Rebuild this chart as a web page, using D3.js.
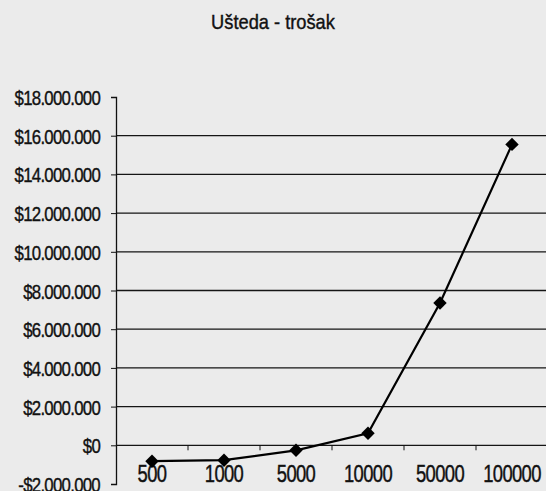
<!DOCTYPE html>
<html>
<head>
<meta charset="utf-8">
<script src="https://cdn.jsdelivr.net/npm/d3@7"></script>
<style>
  body { margin: 0; background: #ebebeb; }
  svg { display: block; }
  text { font-family: "Liberation Sans", Arial, sans-serif; fill: #111; stroke: #111; stroke-width: 0.4px; }
</style>
</head>
<body>
<svg id="chart"></svg>
<script>
var categories = ['500', '1000', '5000', '10000', '50000', '100000'];
var values = [-820000, -770000, -260000, 620000, 7350000, 15550000];
var yTicks = [-2000000, 0, 2000000, 4000000, 6000000, 8000000, 10000000, 12000000, 14000000, 16000000, 18000000];
var title = 'Ušteda - trošak';

var size = { width: 546, height: 491 };
var plot = { left: 116, right: 548, top: 97, bottom: 484 };
var squeeze = 0.8;

var locale = d3.formatLocale({
  decimal: ',', thousands: '.', grouping: [3], currency: ['$', ''], minus: '-'
});
var fmt = locale.format('$,');

var svg = d3.select('#chart')
  .attr('width', size.width)
  .attr('height', size.height);

var x = d3.scaleBand()
  .domain(categories)
  .range([plot.left, plot.right]);

var y = d3.scaleLinear()
  .domain([-2000000, 18000000])
  .range([plot.bottom, plot.top]);

svg.append('text')
  .attr('x', (size.width / 2) / 0.87)
  .attr('y', 29)
  .attr('transform', 'scale(0.87, 1)')
  .attr('text-anchor', 'middle')
  .style('font-size', '21px')
  .text(title);

// gridlines
svg.append('g')
  .selectAll('line')
  .data(yTicks.filter(d => d > 0 && d < 18000000))
  .enter().append('line')
    .attr('x1', plot.left)
    .attr('x2', size.width)
    .attr('y1', d => y(d))
    .attr('y2', d => y(d))
    .attr('stroke', '#151515')
    .attr('stroke-width', 1.3);

// value axis
var yAxis = d3.axisLeft(y)
  .tickValues(yTicks)
  .tickSize(5)
  .tickPadding(12)
  .tickFormat(fmt);

var gy = svg.append('g')
  .attr('transform', `translate(${ plot.left }, 0)`)
  .call(yAxis);
gy.select('.domain').attr('stroke', '#111').attr('stroke-width', 1.3);
gy.selectAll('.tick line').attr('stroke', '#111');
gy.selectAll('.tick text')
  .attr('x', -16 / squeeze)
  .attr('dy', '0.36em')
  .attr('transform', `scale(${ squeeze }, 1)`)
  .style('font-size', '21px')
  .style('letter-spacing', '-0.9px')
  .attr('fill', '#111');

// category axis at zero
var xAxis = d3.axisBottom(x)
  .tickSize(0)
  .tickPadding(0);

var gx = svg.append('g')
  .attr('transform', `translate(0, ${ y(0) })`)
  .call(xAxis);
gx.select('.domain').remove();
gx.selectAll('.tick text')
  .attr('y', 37)
  .attr('dy', 0)
  .attr('transform', `scale(${ squeeze }, 1)`)
  .style('font-size', '23px')
  .style('letter-spacing', '-0.8px')
  .attr('fill', '#111');

svg.append('line')
  .attr('x1', plot.left)
  .attr('x2', size.width)
  .attr('y1', y(0))
  .attr('y2', y(0))
  .attr('stroke', '#151515')
  .attr('stroke-width', 1.3);

svg.append('g')
  .selectAll('line')
  .data(categories.slice(1))
  .enter().append('line')
    .attr('x1', d => x(d))
    .attr('x2', d => x(d))
    .attr('y1', y(0))
    .attr('y2', y(0) + 5)
    .attr('stroke', '#111');

// series
var pts = categories.map((c, i) => [x(c) + x.bandwidth() / 2, y(values[i])]);

svg.append('path')
  .attr('d', d3.line()(pts))
  .attr('fill', 'none')
  .attr('stroke', '#000')
  .attr('stroke-width', 2.2);

svg.append('g')
  .selectAll('path')
  .data(pts)
  .enter().append('path')
    .attr('d', d3.symbol(d3.symbolSquare, 90))
    .attr('transform', d => `translate(${ d[0] }, ${ d[1] }) rotate(45)`)
    .attr('fill', '#000');
</script>
</body>
</html>
